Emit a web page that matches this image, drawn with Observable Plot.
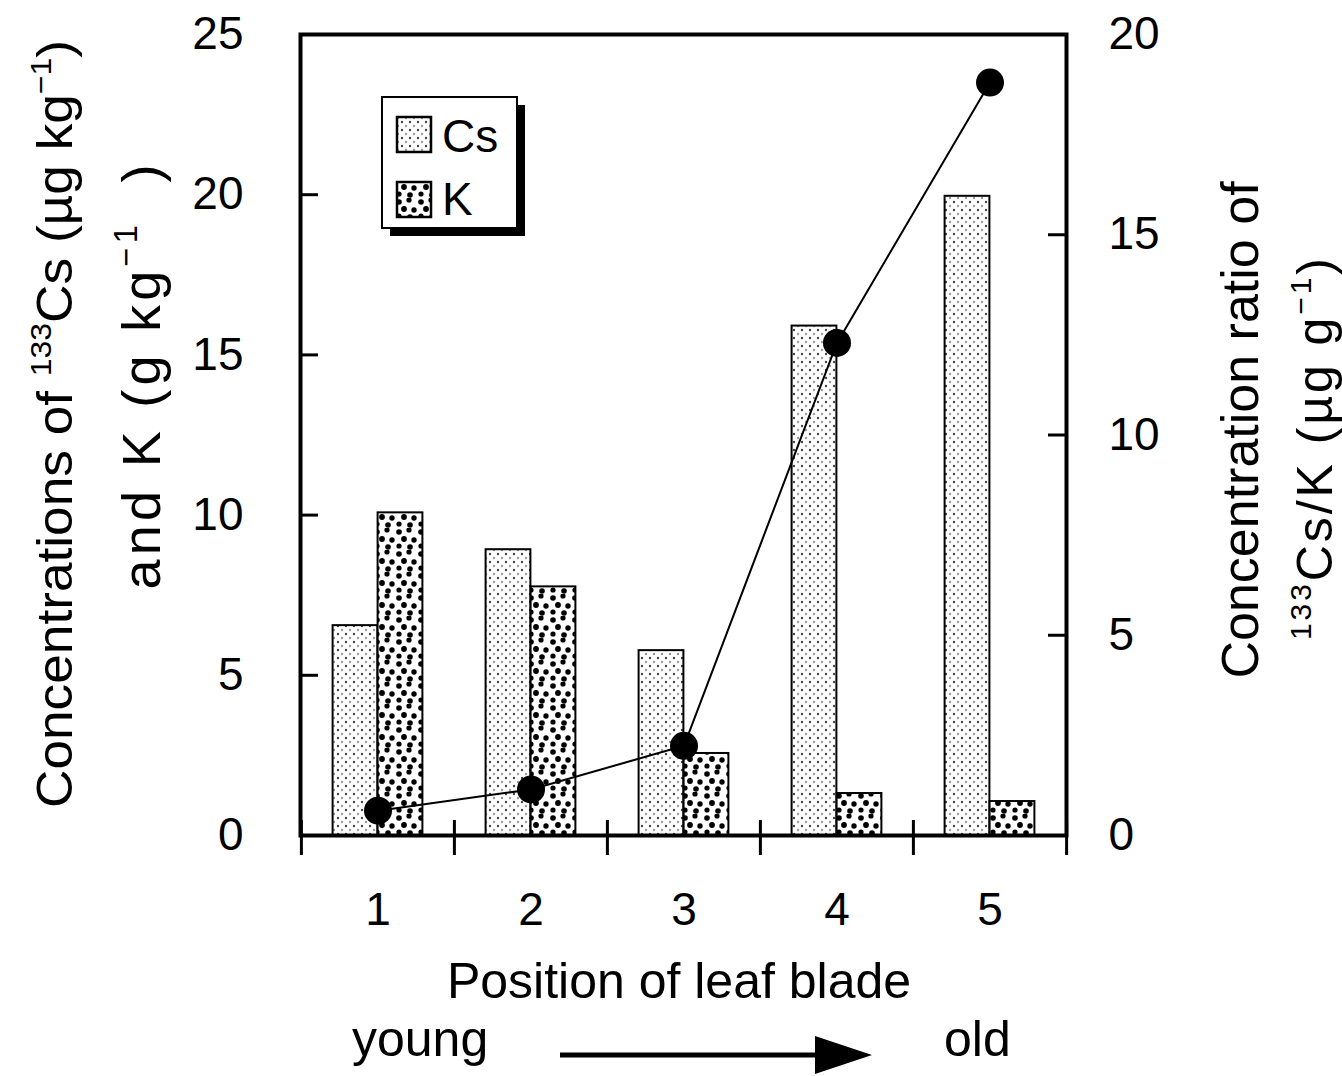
<!DOCTYPE html>
<html>
<head>
<meta charset="utf-8">
<script src="https://cdn.jsdelivr.net/npm/d3@7"></script>
<script src="https://cdn.jsdelivr.net/npm/@observablehq/plot@0.6"></script>
<style>
  html, body { margin: 0; padding: 0; background: white; }
  #chart svg { display: block; }
</style>
</head>
<body>
<div id="chart"></div>
<script>
// ---- data ----
const positions = ["1", "2", "3", "4", "5"];
const csValues = [6.55, 8.92, 5.77, 15.9, 19.95];      // µg kg-1
const kValues = [10.07, 7.76, 2.56, 1.31, 1.06];       // g kg-1
const ratioValues = [0.62, 1.15, 2.24, 12.3, 18.8];    // µg g-1
const leftTicks = [0, 5, 10, 15, 20, 25];
const rightTicks = [0, 5, 10, 15, 20];
const seriesNames = ["Cs", "K"];

const LEFT_MAX = 25, RIGHT_MAX = 20;
const toLeft = v => v * LEFT_MAX / RIGHT_MAX;

const rows = positions.map((p, i) => ({pos: p, cs: csValues[i], k: kValues[i], ratio: ratioValues[i]}));

const W = 1342, H = 1076;
const mL = 300, mR = 276, mT = 34, mB = 241;
const innerW = W - mL - mR;
const step = innerW / positions.length;
const barW = 45;

const chart = Plot.plot({
  width: W, height: H,
  marginLeft: mL, marginRight: mR, marginTop: mT, marginBottom: mB,
  x: {type: "band", domain: positions, padding: 0, axis: null},
  y: {domain: [0, LEFT_MAX], axis: null},
  style: {fontFamily: "'Liberation Sans', Arial, sans-serif", background: "white", color: "black", overflow: "visible"},
  marks: [
    Plot.barY(rows, {x: "pos", y: "cs", fill: "url(#csPat)", stroke: "black", strokeWidth: 2,
      insetLeft: step / 2 - barW, insetRight: step / 2}),
    Plot.barY(rows, {x: "pos", y: "k", fill: "url(#kPat)", stroke: "black", strokeWidth: 2,
      insetLeft: step / 2, insetRight: step / 2 - barW}),
    Plot.line(rows, {x: "pos", y: d => toLeft(d.ratio), stroke: "black", strokeWidth: 2}),
    Plot.dot(rows, {x: "pos", y: d => toLeft(d.ratio), r: 14, fill: "black", stroke: "none"}),
    Plot.frame({stroke: "black", strokeWidth: 4}),
    // left ticks (inward)
    Plot.tickY(leftTicks.slice(1, -1), {y: d => d, insetRight: innerW - 18, strokeWidth: 3}),
    Plot.axisY(leftTicks, {anchor: "left", tickSize: 0, tickPadding: 57, fontSize: 46, label: null}),
    // right ticks (inward)
    Plot.tickY(rightTicks.slice(1, -1).map(toLeft), {y: d => d, insetLeft: innerW - 18, strokeWidth: 3}),
    Plot.axisY(rightTicks.map(toLeft), {anchor: "right", tickSize: 0, tickPadding: 42, fontSize: 46, label: null,
      tickFormat: v => String(Math.round(v * RIGHT_MAX / LEFT_MAX))}),
    // x boundary ticks
    Plot.tickX(positions, {x: d => d, dx: -step / 2, insetTop: (H - mT - mB) - 15, insetBottom: -20, strokeWidth: 3}),
    Plot.tickX([positions[positions.length - 1]], {x: d => d, dx: step / 2, insetTop: (H - mT - mB) - 15, insetBottom: -20, strokeWidth: 3}),
    Plot.axisX(positions, {anchor: "bottom", tickSize: 0, tickPadding: 57, fontSize: 46, label: null})
  ]
});

document.getElementById("chart").appendChild(chart);

// ---- patterns, legend, titles ----
const svg = d3.select(chart);
const defs = svg.insert("defs", ":first-child");
const cs = defs.append("pattern").attr("id", "csPat").attr("patternUnits", "userSpaceOnUse")
  .attr("width", 8).attr("height", 8);
cs.append("rect").attr("width", 8).attr("height", 8).attr("fill", "white");
cs.append("circle").attr("cx", 2).attr("cy", 2).attr("r", 1.2).attr("fill", "#444");
cs.append("circle").attr("cx", 6).attr("cy", 6).attr("r", 1.2).attr("fill", "#999");

const kp = defs.append("pattern").attr("id", "kPat").attr("patternUnits", "userSpaceOnUse")
  .attr("width", 22).attr("height", 22);
kp.append("rect").attr("width", 22).attr("height", 22).attr("fill", "white");
[[3, 4, 2.8], [13, 2, 2.6], [8, 11, 2.9], [18, 12, 2.7], [3, 18, 2.6], [14, 19, 2.8]].forEach(([x, y, r]) =>
  kp.append("circle").attr("cx", x).attr("cy", y).attr("r", r).attr("fill", "black"));

const FONT = "'Liberation Sans', Arial, sans-serif";

// legend
const lg = svg.append("g").attr("text-anchor", "start");
lg.append("rect").attr("x", 390).attr("y", 105).attr("width", 135).attr("height", 131).attr("fill", "black");
lg.append("rect").attr("x", 382).attr("y", 97).attr("width", 135).attr("height", 131)
  .attr("fill", "white").attr("stroke", "black").attr("stroke-width", 2);
const pats = ["url(#csPat)", "url(#kPat)"];
seriesNames.forEach((name, i) => {
  lg.append("rect").attr("x", 397).attr("y", 117 + i * 65).attr("width", 34).attr("height", 35)
    .attr("fill", pats[i]).attr("stroke", "black").attr("stroke-width", 2.5);
  lg.append("text").attr("x", 442).attr("y", 152 + i * 63).attr("text-anchor", "start").attr("font-family", FONT)
    .attr("font-size", 46).attr("fill", "black").text(name);
});

function rotText(x, y, rot, parts, size, len, adjust) {
  const t = svg.append("text").attr("transform", `translate(${x},${y}) rotate(${rot})`)
    .attr("text-anchor", "middle").attr("font-family", FONT).attr("font-size", size).attr("fill", "black");
  if (len) t.attr("textLength", len).attr("lengthAdjust", adjust || "spacingAndGlyphs");
  let pending = 0;
  parts.forEach(([s, sup]) => {
    const ts = t.append("tspan").text(s);
    if (sup) {
      ts.attr("font-size", size * 0.6).attr("dy", pending - size * 0.42);
      pending = size * 0.42;
    } else {
      if (pending) ts.attr("dy", pending);
      pending = 0;
    }
  });
  return t;
}

// left titles
rotText(72, 424, -90, [["Concentrations of ", false], ["133", true], ["Cs (µg kg", false], ["−1", true], [")", false]], 50, 768, "spacingAndGlyphs");
rotText(160, 377, -90, [["and K (g kg", false], ["−1", true], ["  )", false]], 54, 425, "spacing");
// right titles
rotText(1258, 430, -90, [["Concentration ratio of", false]], 52);
rotText(1332, 449, -90, [["133", true], ["Cs/K (µg g", false], ["−1", true], [")", false]], 50, 382, "spacing");

// bottom
svg.append("text").attr("x", 679).attr("y", 998).attr("text-anchor", "middle").attr("font-family", FONT)
  .attr("font-size", 50).attr("fill", "black").text("Position of leaf blade");
svg.append("text").attr("x", 352).attr("y", 1056).attr("text-anchor", "start").attr("font-family", FONT)
  .attr("font-size", 50).attr("fill", "black").text("young");
svg.append("text").attr("x", 944).attr("y", 1056).attr("text-anchor", "start").attr("font-family", FONT)
  .attr("font-size", 50).attr("fill", "black").text("old");
svg.append("line").attr("x1", 560).attr("x2", 820).attr("y1", 1055).attr("y2", 1055)
  .attr("stroke", "black").attr("stroke-width", 5);
svg.append("path").attr("d", "M815,1036L872,1055L815,1074Z").attr("fill", "black");
</script>
</body>
</html>
